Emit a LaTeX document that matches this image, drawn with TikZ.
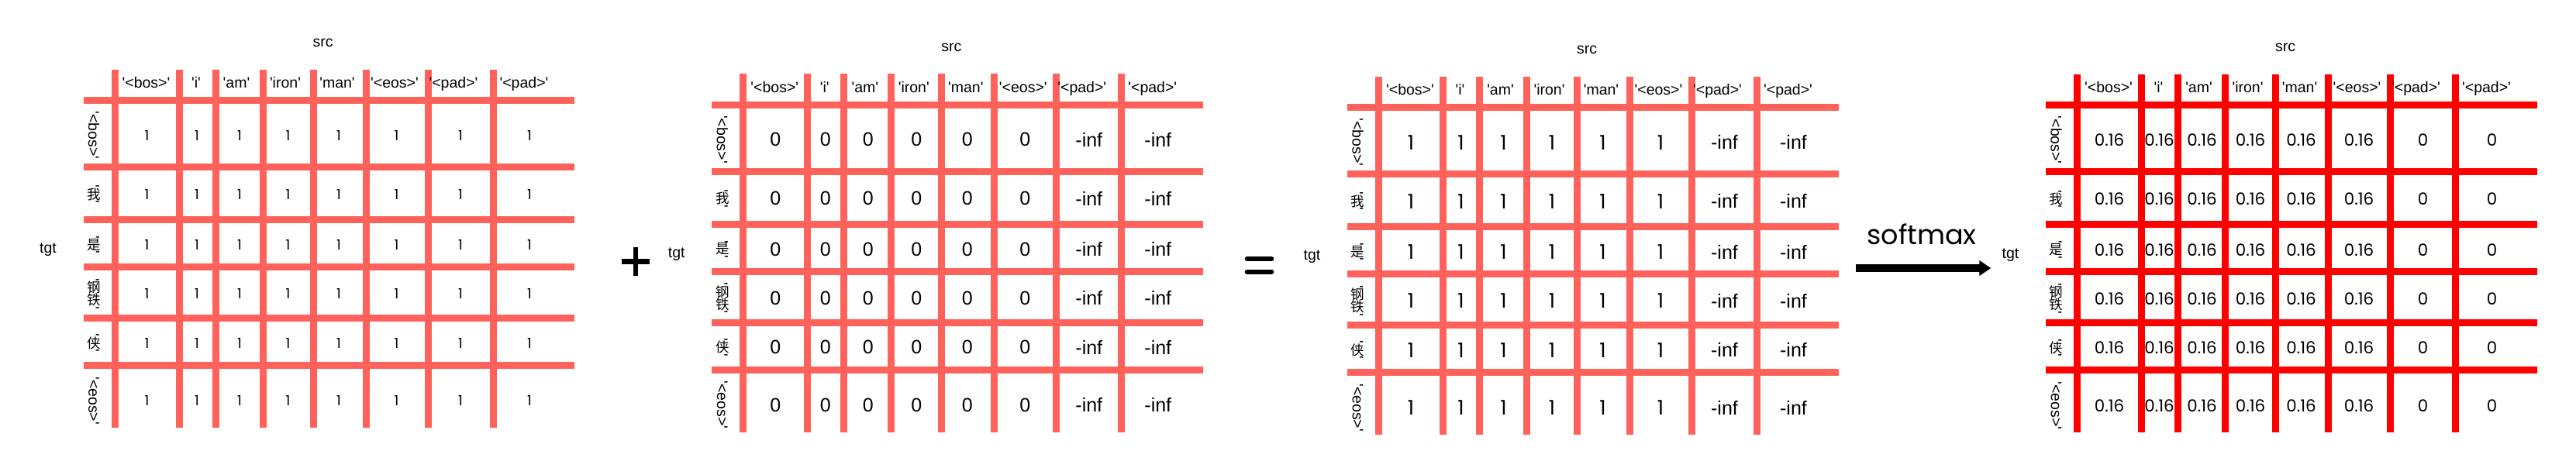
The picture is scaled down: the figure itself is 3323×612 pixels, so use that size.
\documentclass[tikz,border=0pt]{standalone}
\usepackage{fontspec}
\usepackage{graphicx}
\setmainfont{Liberation Sans}
\newfontfamily\geo{Poppins}
\newfontfamily\cjk{Noto Sans CJK SC}
\usetikzlibrary{arrows.meta}
\definecolor{gridsalmon}{HTML}{FF625A}
\definecolor{gridred}{HTML}{FF0000}
\newcommand\qq{\textquotesingle}
\newcommand\cjkchar[1]{\rotatebox[origin=c]{90}{\cjk\fontsize{8.75}{10}\selectfont #1}}
\tikzset{
  gridline/.style={line width=4.5pt},
  hdr/.style={font=\fontsize{9.75}{11}\selectfont, inner sep=0pt, anchor=base},
  axislbl/.style={font=\fontsize{9.75}{11}\selectfont, inner sep=0pt},
  rowlbl/.style={font=\fontsize{9.75}{11}\selectfont, inner sep=0pt, rotate=-90},
  onesmall/.style={font=\geo\fontsize{9}{11}\selectfont, inner sep=0pt},
  arialbig/.style={font=\fontsize{12.5}{14}\selectfont, inner sep=0pt},
  onebig/.style={font=\geo\fontsize{13}{15}\selectfont, inner sep=0pt},
  geomid/.style={font=\geo\fontsize{10.7}{12}\selectfont, inner sep=0pt},
  opsign/.style={line width=3.25pt},
  eqsign/.style={line width=3pt, line cap=round},
  softarrow/.style={line width=5pt, -{Triangle[length=7.5pt,width=9.5pt]}},
  softlbl/.style={font=\geo\fontsize{17.5}{19}\selectfont, inner sep=0pt, anchor=base},
}
% #1 name, #2 x0, #3 y0, #4 colour, #5 style A, #6 text A, #7 style B, #8 text B
\newcommand\attnmatrix[8]{%
  \begin{scope}[shift={(#2,#3)}]
    \foreach \gx in {0,83,130,191,256,324,404,488}
      \draw[gridline,#4] (\gx,-40) -- (\gx,422.5);
    \foreach \gy in {0,86,154,215,281,342}
      \draw[gridline,#4] (-40.5,\gy) -- (593,\gy);
    \node[axislbl] (#1-src) at (268.5,-74) {src};
    \node[axislbl] (#1-tgt) at (-86,193) {tgt};
    \foreach \hx/\htxt [count=\ci] in {40.5/<bos>, 105/i, 157/am, 220/iron, 287/man, 361/<eos>, 437/<pad>, 528/<pad>}
      \node[hdr] (#1-h\ci) at (\hx,-16) {\qq\htxt\qq};
    \node[rowlbl] (#1-r1) at (-27,45) {\qq<bos>\qq};
    \node[rowlbl] (#1-r2) at (-27,121) {\qq\cjkchar{我}\qq};
    \node[rowlbl] (#1-r3) at (-27,186.5) {\qq\cjkchar{是}\qq};
    \node[rowlbl] (#1-r4) at (-27,249.5) {\qq\cjkchar{钢}\cjkchar{铁}\qq};
    \node[rowlbl] (#1-r5) at (-27,313) {\qq\cjkchar{侠}\qq};
    \node[rowlbl] (#1-r6) at (-27,387.5) {\qq<eos>\qq};
    \foreach \ry [count=\ri] in {45,121,186.5,249.5,313,387.5} {
      \foreach \cx [count=\ci] in {41.5,106,161,223.5,289,363.5}
        \node[#5] (#1-v\ri-\ci) at (\cx,\ry) {#6};
      \foreach \cx [count=\cj from 7] in {446,535}
        \node[#7] (#1-v\ri-\cj) at (\cx,\ry) {#8};
    }
  \end{scope}%
}
\begin{document}
\begin{tikzpicture}[x=0.5pt,y=-0.5pt]
  \useasboundingbox (0,0) rectangle (3323,612);
  \attnmatrix{ma}{148}{129.6}{gridsalmon}{onesmall}{1}{onesmall}{1}
  \attnmatrix{mb}{958.8}{135}{gridsalmon}{arialbig}{0}{arialbig}{-inf}
  \attnmatrix{mc}{1778.5}{138.6}{gridsalmon}{onebig}{1}{arialbig}{-inf}
  \attnmatrix{md}{2679.5}{135.8}{gridred}{geomid}{0.16}{geomid}{0}
  % plus sign
  \draw[opsign] (801.7,337.7) -- (838.3,337.7);
  \draw[opsign] (820,319.3) -- (820,356);
  % equals sign
  \draw[eqsign] (1608.7,334.3) -- (1640.3,334.3);
  \draw[eqsign] (1608.7,350.7) -- (1640.3,350.7);
  % softmax arrow
  \node[softlbl] (softmax) at (2479,315) {softmax};
  \coordinate (arrowtail) at (2394.3,346);
  \coordinate (arrowtip) at (2568.3,346);
  \draw[softarrow] (arrowtail) -- (arrowtip);
\end{tikzpicture}
\end{document}
